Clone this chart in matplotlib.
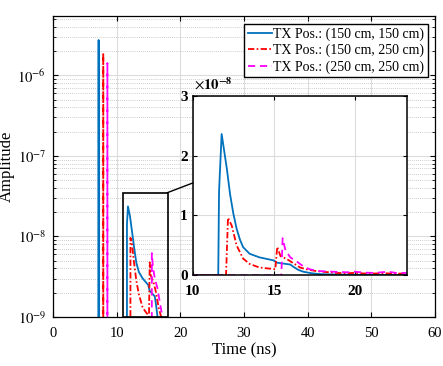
import matplotlib
matplotlib.use("Agg")
import matplotlib.pyplot as plt
from matplotlib.lines import Line2D
from matplotlib.patches import Rectangle
from matplotlib.ticker import LogLocator, NullFormatter

plt.rcParams['font.family'] = ['Liberation Serif', 'DejaVu Serif']
plt.rcParams['mathtext.fontset'] = 'stix'

# ---------------- data (time in ns, amplitude) ----------------
labels = ["TX Pos.: (150 cm, 150 cm)",
          "TX Pos.: (150 cm, 250 cm)",
          "TX Pos.: (250 cm, 250 cm)"]

t_blue = [0, 7.05, 7.17, 7.3, 11.57, 11.62, 11.78, 12.1, 12.3, 12.5, 12.7, 12.9,
          13.1, 13.5, 14.1, 14.96, 15.2, 16.0, 16.2, 16.5, 16.8, 17.3, 17.8, 18.5,
          19.5, 20.5, 21.5, 22.5, 23.5]
a_blue = [0, 0, 2.75e-6, 0, 0, 1.4e-8, 2.36e-8, 1.78e-8, 1.35e-8, 1.03e-8, 0.78e-8,
          0.60e-8, 0.47e-8, 0.36e-8, 0.30e-8, 0.25e-8, 0.21e-8, 0.18e-8, 0.14e-8,
          0.09e-8, 0.06e-8, 0.035e-8, 0.02e-8, 0.015e-8, 0.01e-8, 0.008e-8,
          0.006e-8, 0.005e-8, 0.005e-8]

t_red = [0, 7.8, 7.9, 8.0, 12.05, 12.17, 12.4, 12.7, 13.1, 13.5, 14.1, 14.96,
         15.08, 15.2, 15.4, 15.8, 16.2, 16.6, 17.0, 17.6, 18.2, 18.8, 19.4, 20.0,
         20.6, 21.2, 21.8, 22.4, 23.0, 23.5]
a_red = [0, 0, 1.9e-6, 0, 0, 0.96e-8, 0.83e-8, 0.50e-8, 0.28e-8, 0.19e-8, 0.13e-8,
         0.105e-8, 0.10e-8, 0.475e-8, 0.32e-8, 0.27e-8, 0.20e-8, 0.13e-8, 0.10e-8,
         0.07e-8, 0.055e-8, 0.04e-8, 0.035e-8, 0.04e-8, 0.03e-8, 0.03e-8, 0.035e-8,
         0.025e-8, 0.03e-8, 0.025e-8]

t_mag = [0, 8.45, 8.55, 8.65, 15.45, 15.53, 15.7, 16.0, 16.4, 16.8, 17.2, 17.8,
         18.6, 19.5, 20.0, 20.5, 21.2, 22.0, 22.5, 23.5]
a_mag = [0, 0, 1.42e-6, 0, 0, 0.62e-8, 0.42e-8, 0.30e-8, 0.23e-8, 0.15e-8, 0.10e-8,
         0.07e-8, 0.06e-8, 0.05e-8, 0.06e-8, 0.045e-8, 0.04e-8, 0.06e-8, 0.04e-8,
         0.04e-8]

xticks_main = [0, 10, 20, 30, 40, 50, 60]
yticks_main = [1e-9, 1e-8, 1e-7, 1e-6]
yticklabels_main = [r'$10^{-9}$', r'$10^{-8}$', r'$10^{-7}$', r'$10^{-6}$']
xticks_in = [10, 15, 20]
yticks_in = [0, 1e-8, 2e-8, 3e-8]
yticklabels_in = ['0', '1', '2', '3']

blue = '#0072BD'
red = '#FF0000'
mag = '#FF00FF'
series = [(t_blue, a_blue, blue, '-'),
          (t_red, a_red, red, (0, (3.5, 1.3, 0.9, 1.3))),
          (t_mag, a_mag, mag, (0, (4, 2.6)))]

fig = plt.figure(figsize=(4.43, 3.66), dpi=100)
ax = fig.add_axes([0.1196, 0.134, 0.862, 0.823])

for (t, a, c, ls), lab in zip(series, labels):
    ax.plot(t, a, color=c, ls=ls, lw=1.3, label=lab)

ax.set_yscale('log', nonpositive='clip')
ax.set_xlim(0, 60)
ax.set_ylim(1e-9, 5.5e-6)
ax.set_xticks(xticks_main)
ax.set_yticks(yticks_main)
ax.set_yticklabels(yticklabels_main)
ax.yaxis.set_minor_locator(LogLocator(base=10, subs=range(2, 10)))
ax.yaxis.set_minor_formatter(NullFormatter())
ax.tick_params(which='both', direction='in', top=True, right=True, labelsize=10.5)
ax.tick_params(which='major', length=3.5)
ax.tick_params(axis='x', pad=7)
ax.tick_params(axis='y', pad=5)
ax.tick_params(which='minor', length=2)
ax.grid(True, which='major', color='#dcdcdc', lw=0.8, ls='-')
ax.grid(True, which='minor', axis='y', color='#bdbdbd', lw=0.6, ls=(0, (1, 1.5)))
ax.set_axisbelow(True)
for s in ax.spines.values():
    s.set_linewidth(0.9)
ax.set_xlabel('Time (ns)', fontsize=12, labelpad=2)
ax.set_ylabel('Amplitude', fontsize=12, labelpad=2)

leg = ax.legend(loc='upper right', bbox_to_anchor=(0.966, 0.934),
                bbox_transform=fig.transFigure, borderaxespad=0, fontsize=10,
                fancybox=False, framealpha=1, edgecolor='black',
                handlelength=1.75, handletextpad=0.1, labelspacing=0.2,
                borderpad=0.25)
leg.get_frame().set_linewidth(1.0)

# zoom rectangle
ax.add_patch(Rectangle((11, 1e-9), 7, 3.4e-8, fill=False, ec='black', lw=1.2,
                       zorder=5))

# inset
axi = fig.add_axes([0.435, 0.2478, 0.4845, 0.4907])
for (t, a, c, ls) in series:
    axi.plot(t, a, color=c, ls=ls, lw=1.3)
axi.set_xlim(10, 23.2)
axi.set_ylim(0, 3e-8)
axi.set_xticks(xticks_in)
axi.set_yticks(yticks_in)
axi.set_yticklabels(yticklabels_in)
axi.tick_params(direction='in', top=True, right=True, labelsize=11, length=3)
axi.tick_params(axis='x', pad=7)
for lab in axi.get_xticklabels() + axi.get_yticklabels():
    lab.set_fontweight('bold')
axi.grid(True, color='#dcdcdc', lw=0.8)
axi.set_axisbelow(True)
for s in axi.spines.values():
    s.set_linewidth(1.1)
axi.text(0.005, 1.015, r'$\times\mathbf{10^{-8}}$', transform=axi.transAxes,
         fontsize=10.5, fontweight='bold', va='bottom', ha='left', zorder=10)

# connector line
fig.add_artist(Line2D([0.3777, 0.435], [0.4735, 0.5], color='black', lw=1.0,
                      transform=fig.transFigure))

fig.savefig('out.png', dpi=100)
